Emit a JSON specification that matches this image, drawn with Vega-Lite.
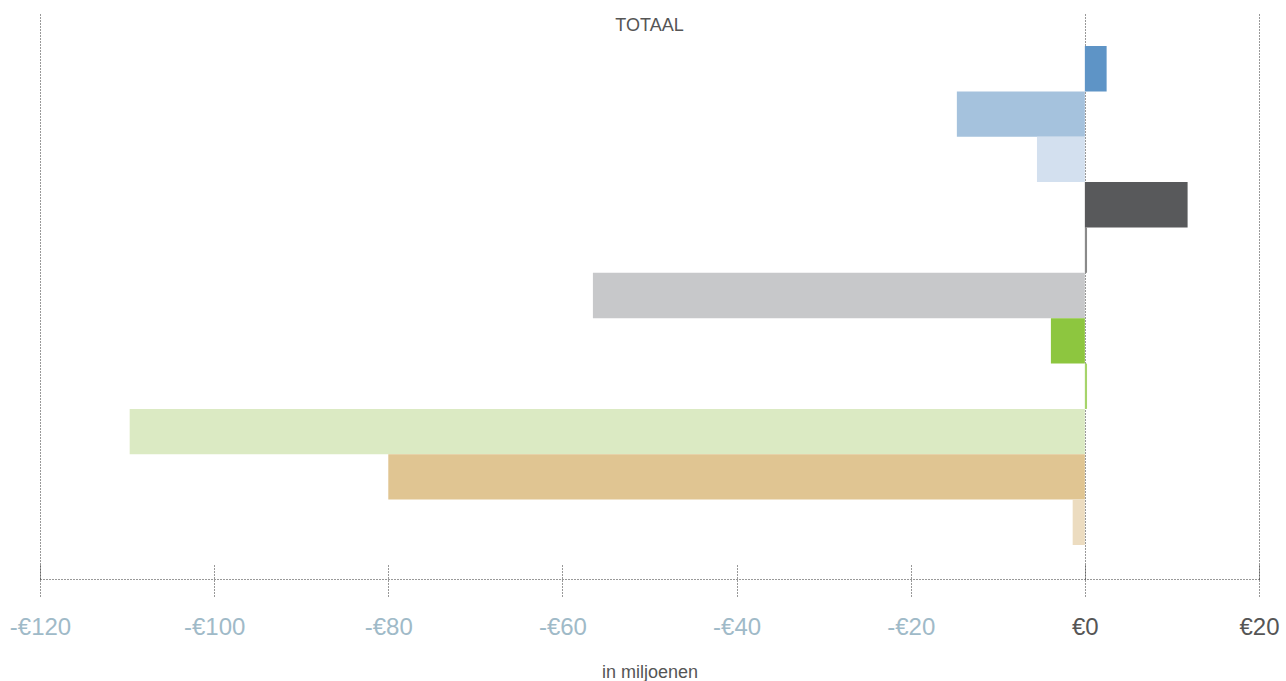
{
  "$schema": "https://vega.github.io/schema/vega-lite/v6.json",
  "autosize": {"type": "none"},
  "padding": {"left": 40, "top": 12, "right": 27, "bottom": 102},
  "width": 1219,
  "height": 567,
  "background": "white",
  "config": {
    "view": {"stroke": null},
    "font": "Liberation Sans"
  },
  "title": {
    "text": "TOTAAL",
    "orient": "top",
    "anchor": "middle",
    "baseline": "top",
    "offset": -23,
    "fontSize": 18,
    "fontWeight": "normal",
    "color": "#555555",
    "font": "Liberation Sans"
  },
  "data": {
    "values": [
      {"rij": "r01", "waarde": 2.5},
      {"rij": "r02", "waarde": -14.7},
      {"rij": "r03", "waarde": -5.5},
      {"rij": "r04", "waarde": 11.8},
      {"rij": "r05", "waarde": 0.25},
      {"rij": "r06", "waarde": -56.5},
      {"rij": "r07", "waarde": -3.9},
      {"rij": "r08", "waarde": 0.25},
      {"rij": "r09", "waarde": -109.7},
      {"rij": "r10", "waarde": -80.0},
      {"rij": "r11", "waarde": -1.4}
    ]
  },
  "encoding": {
    "y": {
      "field": "rij",
      "type": "nominal",
      "sort": null,
      "scale": {"paddingInner": 0, "paddingOuter": 0.75},
      "axis": null
    },
    "x": {
      "field": "waarde",
      "type": "quantitative",
      "scale": {"domain": [-120, 20], "nice": false, "zero": true}
    },
    "color": {
      "field": "rij",
      "type": "nominal",
      "legend": null,
      "scale": {
        "domain": ["r01", "r02", "r03", "r04", "r05", "r06", "r07", "r08", "r09", "r10", "r11"],
        "range": ["#5e94c6", "#a5c2dd", "#d3e0ef", "#58595b", "#8a8a8a", "#c7c8ca", "#8dc63f", "#a6d46a", "#dbeac3", "#e0c592", "#ecdcc0"]
      }
    }
  },
  "layer": [
    {
      "mark": {"type": "bar", "opacity": 1},
      "encoding": {
        "x": {
          "field": "waarde",
          "type": "quantitative",
          "scale": {"domain": [-120, 20], "nice": false, "zero": true},
          "axis": {
            "orient": "bottom",
            "values": [-120, -100, -80, -60, -40, -20, 0, 20],
            "format": "d",
            "labelExpr": "datum.value < 0 ? '-€' + abs(datum.value) : '€' + datum.value",
            "domain": true,
            "domainColor": "#333333",
            "domainDash": [1, 2],
            "domainWidth": 1,
            "ticks": false,
            "grid": true,
            "gridColor": "#333333",
            "gridDash": [1, 2],
            "gridWidth": 1,
            "gridOpacity": {"condition": {"test": "datum.value == -120 || datum.value == 0 || datum.value == 20", "value": 1}, "value": 0},
            "labels": true,
            "labelFontSize": 24,
            "labelFont": "Liberation Sans",
            "labelPadding": 36,
            "labelColor": {"condition": {"test": "datum.value < 0", "value": "#9fbac8"}, "value": "#555555"},
            "labelFlush": false,
            "labelOverlap": false,
            "title": "in miljoenen",
            "titleFont": "Liberation Sans",
            "titleFontSize": 18,
            "titleFontWeight": "normal",
            "titleColor": "#555555",
            "titlePadding": 24
          }
        }
      }
    },
    {
      "mark": {"type": "bar", "opacity": 0},
      "encoding": {
        "x": {
          "field": "waarde",
          "type": "quantitative",
          "scale": {"domain": [-120, 20], "nice": false, "zero": true},
          "axis": {
            "orient": "bottom",
            "offset": -14,
            "values": [-120, -100, -80, -60, -40, -20, 0, 20],
            "domain": false,
            "grid": false,
            "labels": false,
            "ticks": true,
            "tickSize": 33,
            "tickColor": "#333333",
            "tickDash": [1, 2],
            "tickWidth": 1,
            "title": null
          }
        }
      }
    }
  ],
  "resolve": {"axis": {"x": "independent"}}
}
